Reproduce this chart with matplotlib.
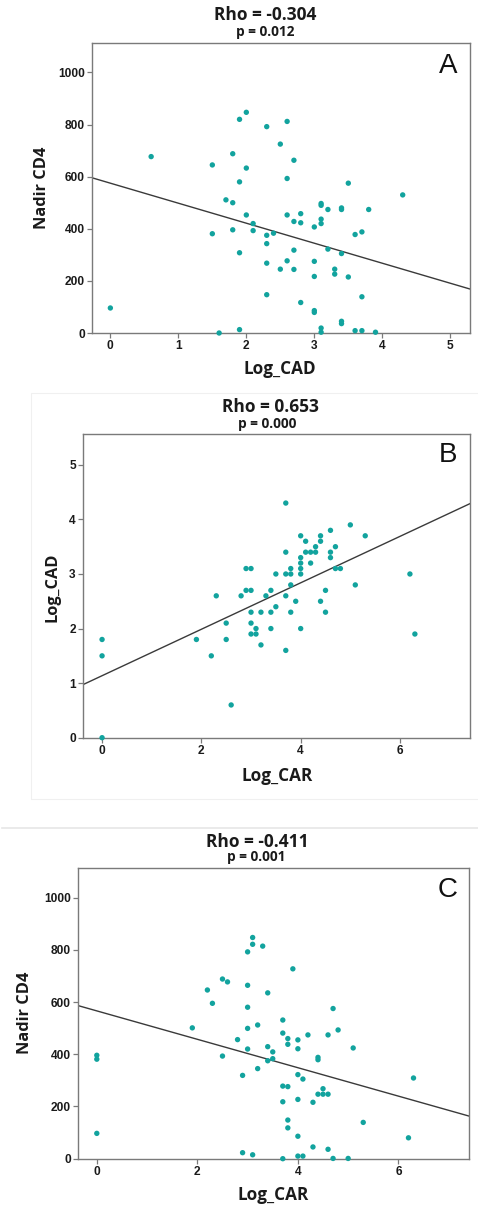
import matplotlib
matplotlib.use("Agg")
import matplotlib.pyplot as plt
from matplotlib.lines import Line2D
from matplotlib.patches import Rectangle

# ---------------- data ----------------
a_x = [0.0, 0.6, 1.5, 1.5, 1.6, 1.7, 1.8, 1.8, 1.8, 1.9, 1.9, 1.9, 1.9, 2.0, 2.0, 2.0,
       2.1, 2.1, 2.3, 2.3, 2.3, 2.3, 2.3, 2.4, 2.5, 2.5, 2.6, 2.6, 2.6, 2.6, 2.7, 2.7,
       2.7, 2.7, 2.8, 2.8, 2.8, 3.0, 3.0, 3.0, 3.0, 3.0, 3.1, 3.1, 3.1, 3.1, 3.1, 3.1,
       3.2, 3.2, 3.3, 3.3, 3.4, 3.4, 3.4, 3.4, 3.4, 3.5, 3.5, 3.6, 3.6, 3.7, 3.7, 3.7,
       3.8, 3.9, 4.3]
a_y = [96, 677, 645, 381, 0, 511, 688, 500, 396, 820, 580, 308, 13, 847, 633, 453,
       420, 393, 792, 375, 343, 268, 147, 383, 725, 245, 812, 593, 453, 277, 663, 428,
       318, 244, 458, 423, 117, 407, 275, 217, 86, 79, 497, 490, 437, 420, 19, 3,
       474, 322, 245, 226, 480, 474, 305, 45, 36, 575, 215, 378, 9, 388, 139, 9,
       474, 3, 530]
a_fit = (575.0, -76.8)   # intercept, slope

b_x = [0.0, 0.0, 0.0, 1.9, 2.2, 2.3, 2.5, 2.5, 2.6, 2.8, 2.9, 2.9, 3.0, 3.0, 3.0, 3.0,
       3.0, 3.1, 3.1, 3.2, 3.2, 3.3, 3.4, 3.4, 3.4, 3.5, 3.5, 3.7, 3.7, 3.7, 3.7, 3.7,
       3.8, 3.8, 3.8, 3.8, 3.9, 4.0, 4.0, 4.0, 4.0, 4.0, 4.0, 4.1, 4.1, 4.2, 4.2, 4.3,
       4.3, 4.4, 4.4, 4.4, 4.5, 4.5, 4.6, 4.6, 4.6, 4.7, 4.7, 4.8, 5.0, 5.1, 5.3, 6.2,
       6.3]
b_y = [1.8, 1.5, 0.0, 1.8, 1.5, 2.6, 2.1, 1.8, 0.6, 2.6, 3.1, 2.7, 3.1, 2.7, 2.3, 2.1,
       1.9, 2.0, 1.9, 2.3, 1.7, 2.6, 2.7, 2.3, 2.0, 3.0, 2.4, 4.3, 3.4, 3.0, 2.6, 1.6,
       3.1, 3.0, 2.8, 2.3, 2.5, 3.7, 3.3, 3.2, 3.1, 3.0, 2.0, 3.6, 3.4, 3.4, 3.2, 3.5,
       3.4, 3.7, 3.6, 2.5, 2.7, 2.3, 3.8, 3.4, 3.3, 3.5, 3.1, 3.1, 3.9, 2.8, 3.7, 3.0,
       1.9]
b_fit = (1.136, 0.4256)

c_x = [0.0, 0.0, 0.0, 1.9, 2.2, 2.3, 2.5, 2.5, 2.6, 2.8, 2.9, 2.9, 3.0, 3.0, 3.0, 3.0,
       3.0, 3.1, 3.1, 3.1, 3.2, 3.2, 3.3, 3.4, 3.4, 3.4, 3.5, 3.5, 3.7, 3.7, 3.7, 3.7,
       3.7, 3.8, 3.8, 3.8, 3.8, 3.8, 3.9, 4.0, 4.0, 4.0, 4.0, 4.0, 4.0, 4.1, 4.1, 4.2,
       4.3, 4.3, 4.4, 4.4, 4.4, 4.5, 4.5, 4.6, 4.6, 4.6, 4.7, 4.7, 4.8, 5.0, 5.1, 5.3,
       6.2, 6.3]
c_y = [396, 381, 97, 501, 646, 595, 393, 688, 677, 456, 319, 23, 792, 664, 580, 499,
       420, 847, 821, 15, 512, 345, 814, 635, 429, 375, 409, 383, 531, 481, 278, 218,
       0, 460, 438, 276, 148, 118, 727, 455, 421, 322, 227, 86, 10, 305, 10, 474,
       216, 45, 388, 379, 247, 268, 247, 474, 247, 36, 575, 1, 493, 1, 424, 139,
       80, 309]
c_fit = (566.0, -54.4)

panels = [
    dict(x=a_x, y=a_y, fit=a_fit, letter="A", rho="Rho = -0.304", p="p = 0.012",
         xlabel="Log_CAD", ylabel="Nadir CD4",
         xlim=(-0.27, 5.29), ylim=(0, 1113), xticks=[0, 1, 2, 3, 4, 5],
         yticks=[0, 200, 400, 600, 800, 1000],
         box=(92, 470, 43, 333), rho_xy=(265, 15), p_xy=(265, 32),
         xl_xy=(280, 369), yl_xy=(42, 188), let_xy=(448, 66)),
    dict(x=b_x, y=b_y, fit=b_fit, letter="B", rho="Rho = 0.653", p="p = 0.000",
         xlabel="Log_CAR", ylabel="Log_CAD",
         xlim=(-0.39, 7.41), ylim=(0, 5.56), xticks=[0, 2, 4, 6],
         yticks=[0, 1, 2, 3, 4, 5],
         box=(82.7, 470, 434.3, 737.7), rho_xy=(270, 407), p_xy=(267, 424),
         xl_xy=(277, 776), yl_xy=(52, 587), let_xy=(448, 455)),
    dict(x=c_x, y=c_y, fit=c_fit, letter="C", rho="Rho = -0.411", p="p = 0.001",
         xlabel="Log_CAR", ylabel="Nadir CD4",
         xlim=(-0.38, 7.41), ylim=(0, 1112), xticks=[0, 2, 4, 6],
         yticks=[0, 200, 400, 600, 800, 1000],
         box=(77.7, 469.3, 868.3, 1158.7), rho_xy=(257, 842), p_xy=(256, 857),
         xl_xy=(273, 1195), yl_xy=(25, 1013), let_xy=(448, 890)),
]

W, H = 478, 1207
fig = plt.figure(figsize=(W / 100, H / 100), dpi=100)
fig.patch.set_facecolor("white")

def fx(px):
    return px / W

def fy(py):
    return 1 - py / H

# faint frame around panel B and separator line
fig.add_artist(Rectangle((fx(31), fy(799)), fx(460), fy(393) - fy(799),
                         transform=fig.transFigure, fill=False,
                         edgecolor="#f0f0f0", linewidth=0.8))
fig.add_artist(Line2D([fx(2), fx(478)], [fy(827.5), fy(827.5)],
                      transform=fig.transFigure, color="#e6e6e6", linewidth=1.2))

TEAL = "#12a39e"
SPINE = "#7a7a7a"
TXT = "#1a1a1a"

for pnl in panels:
    l, r, t, b = pnl["box"]
    ax = fig.add_axes([fx(l), fy(b), fx(r - l), fy(t) - fy(b)])
    ax.scatter(pnl["x"], pnl["y"], s=15, color=TEAL, edgecolors="none", zorder=3,
               clip_on=False)
    icpt, slope = pnl["fit"]
    ax.axline((0, icpt), slope=slope, color="#3a3a3a", linewidth=1.0, zorder=2)
    ax.set_xlim(*pnl["xlim"])
    ax.set_ylim(*pnl["ylim"])
    ax.set_xticks(pnl["xticks"])
    ax.set_yticks(pnl["yticks"])
    for sp in ax.spines.values():
        sp.set_color(SPINE)
        sp.set_linewidth(1.0)
    ax.tick_params(direction="out", length=3.5, width=0.9, color=SPINE,
                   labelsize=8.6, pad=1.5, labelcolor=TXT)
    for lab in ax.get_xticklabels() + ax.get_yticklabels():
        lab.set_fontfamily("Liberation Sans")
        lab.set_fontweight("bold")

    fig.text(fx(pnl["rho_xy"][0]), fy(pnl["rho_xy"][1]), pnl["rho"], ha="center",
             va="center", fontsize=12.5, fontweight="bold", family="Open Sans", color=TXT)
    fig.text(fx(pnl["p_xy"][0]), fy(pnl["p_xy"][1]), pnl["p"], ha="center",
             va="center", fontsize=9.8, fontweight="bold", family="Open Sans", color=TXT)
    fig.text(fx(pnl["xl_xy"][0]), fy(pnl["xl_xy"][1]), pnl["xlabel"], ha="center",
             va="center", fontsize=12.3, fontweight="bold", family="Open Sans", color=TXT)
    fig.text(fx(pnl["yl_xy"][0]), fy(pnl["yl_xy"][1]), pnl["ylabel"], ha="center",
             va="center", rotation=90, fontsize=11.8, fontweight="bold",
             family="Open Sans", color=TXT)
    fig.text(fx(pnl["let_xy"][0]), fy(pnl["let_xy"][1]), pnl["letter"], ha="center",
             va="center", fontsize=20, family="Liberation Sans", color="#111111")

fig.savefig("out.png", dpi=100, facecolor="white")
